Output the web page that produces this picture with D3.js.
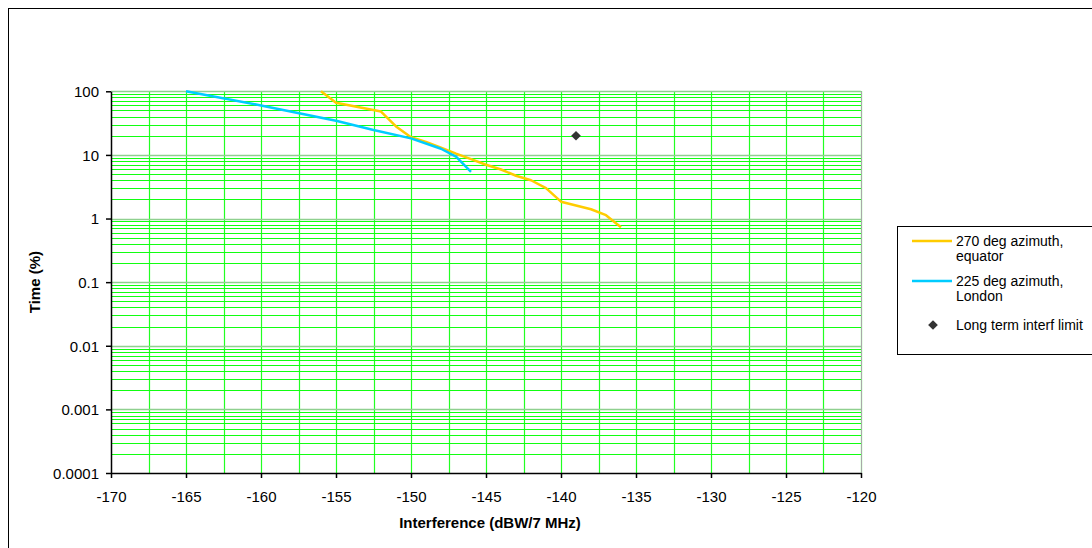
<!DOCTYPE html>
<html><head><meta charset="utf-8">
<script src="https://cdn.jsdelivr.net/npm/d3@7"></script>
<style>body{margin:0;background:#fff;} svg{display:block;font-family:"Liberation Sans",Arial,sans-serif;}</style>
</head><body><svg id="c" width="1092" height="548"></svg>
<script>
const xTicks = [-170,-165,-160,-155,-150,-145,-140,-135,-130,-125,-120];
const yTicks = [0.0001,0.001,0.01,0.1,1,10,100];
const yTickLabels = ["0.0001","0.001","0.01","0.1","1","10","100"];
const seriesNames = ["270 deg azimuth, equator","225 deg azimuth, London","Long term interf limit"];
const equatorX = [-156,-155,-152,-151,-150,-149,-148,-147,-146,-145,-144,-143,-142,-141,-140,-138,-137,-136];
const equatorY = [100,66,48,28,19,16,13,10.5,8.6,7,5.9,4.7,4,3,1.84,1.4,1.13,0.73];
const londonX = [-165,-160,-155,-152.5,-150,-148,-147,-146];
const londonY = [100,60,34.5,24.6,18.2,12.5,9.4,5.4];
const limitX = [-139];
const limitY = [20];

const svg = d3.select("#c");
const L=111, R=861, T=91.3, B=473;
const x = d3.scaleLinear().domain([-170,-120]).range([L,R]);
const y = d3.scaleLog().domain([0.0001,100]).range([B,T]);
const FONT = "Liberation Sans, Arial, sans-serif";

// outer chart border
svg.append("rect").attr("x",8.5).attr("y",8.5).attr("width",1100).attr("height",560)
  .attr("fill","none").attr("stroke","#000").attr("stroke-width",1);

const g = svg.append("g");
// vertical gridlines every 2.5
const vgrid = d3.range(-167.5,-119,2.5);
g.selectAll(".vg").data(vgrid).enter().append("line")
  .attr("x1",d=>Math.round(x(d))+0.5).attr("x2",d=>Math.round(x(d))+0.5)
  .attr("y1",T).attr("y2",B).attr("stroke","#22ff22").attr("stroke-width",1.2);
// horizontal minor gridlines
const hminor = [];
for (let e=-4;e<2;e++){ for(let m=2;m<=9;m++){ hminor.push(m*Math.pow(10,e)); } }
g.selectAll(".hg").data(hminor).enter().append("line")
  .attr("x1",L).attr("x2",R)
  .attr("y1",d=>Math.round(y(d))+0.5).attr("y2",d=>Math.round(y(d))+0.5)
  .attr("stroke","#11ff11").attr("stroke-width",1);
// decade gridlines
g.selectAll(".hd").data(yTicks.slice(1)).enter().append("line")
  .attr("x1",L).attr("x2",R)
  .attr("y1",d=>Math.round(y(d))+0.5).attr("y2",d=>Math.round(y(d))+0.5)
  .attr("stroke","#8fd08f").attr("stroke-width",1.5);
// right plot border
g.append("line").attr("x1",R+0.5).attr("x2",R+0.5).attr("y1",T).attr("y2",B).attr("stroke","#a8a8a8");

// axes
const xAxis = d3.axisBottom(x).tickValues(xTicks).tickSize(5).tickSizeOuter(0).tickFormat(d=>d);
const yAxis = d3.axisLeft(y).tickValues(yTicks).tickSize(5).tickSizeOuter(0).tickFormat((d,i)=>yTickLabels[i]);
const gx = svg.append("g").attr("transform",`translate(0,${B})`).call(xAxis);
const gy = svg.append("g").attr("transform",`translate(${L},0)`).call(yAxis);
[gx,gy].forEach(a=>{
  a.select(".domain").attr("stroke","#000").attr("stroke-width",1.5);
  a.selectAll(".tick line").attr("stroke","#000").attr("stroke-width",1.5);
  a.selectAll("text").attr("font-family",FONT).attr("font-size",15).attr("fill","#000");
});
gx.selectAll("text").attr("y",0).attr("dy",0).attr("transform","translate(0,28.5)");
gy.selectAll("text").attr("x",-12).attr("dy","0.36em");

// axis titles
svg.append("text").attr("x",(L+R)/2+4).attr("y",528).attr("text-anchor","middle").attr("font-family",FONT)
  .attr("font-size",15).attr("font-weight","bold").text("Interference (dBW/7 MHz)");
svg.append("text").attr("transform",`translate(40,${(T+B)/2}) rotate(-90)`).attr("text-anchor","middle").attr("font-family",FONT)
  .attr("font-size",15).attr("font-weight","bold").text("Time (%)");

// series
const line = d3.line().x(d=>x(d[0])).y(d=>y(d[1]));
svg.append("path").datum(equatorX.map((v,i)=>[v,equatorY[i]])).attr("d",line)
  .attr("fill","none").attr("stroke","#ffcc00").attr("stroke-width",2.5).attr("stroke-linejoin","round");
svg.append("path").datum(londonX.map((v,i)=>[v,londonY[i]])).attr("d",line)
  .attr("fill","none").attr("stroke","#00ccff").attr("stroke-width",2.5).attr("stroke-linejoin","round");
const diamond = d3.symbol().type(d3.symbolDiamond2).size(60);
svg.selectAll(".pt").data(limitX.map((v,i)=>[v,limitY[i]])).enter().append("path")
  .attr("d",diamond).attr("transform",d=>`translate(${x(d[0])},${y(d[1])})`).attr("fill","#333");

// legend
const lg = svg.append("g");
lg.append("rect").attr("x",897.5).attr("y",226.5).attr("width",200).attr("height",128)
  .attr("fill","#fff").attr("stroke","#000");
lg.append("line").attr("x1",912).attr("x2",952).attr("y1",241).attr("y2",241).attr("stroke","#ffcc00").attr("stroke-width",2.5);
lg.append("line").attr("x1",912).attr("x2",952).attr("y1",281).attr("y2",281).attr("stroke","#00ccff").attr("stroke-width",2.5);
lg.append("path").attr("d",diamond).attr("transform","translate(933,325)").attr("fill","#333");
const lt = [["270 deg azimuth,",246],["equator",261],["225 deg azimuth,",286],["London",301],["Long term interf limit",330]];
lg.selectAll(".lt").data(lt).enter().append("text").attr("x",956).attr("y",d=>d[1]).attr("font-family",FONT)
  .attr("font-size",14).attr("fill","#000").text(d=>d[0]);
</script></body></html>
